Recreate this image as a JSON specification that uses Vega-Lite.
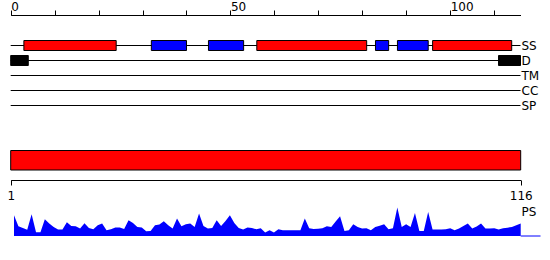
{
  "$schema": "https://vega.github.io/schema/vega-lite/v6.json",
  "width": 550,
  "height": 245,
  "autosize": "none",
  "padding": {"left": 0, "top": 15, "right": 0, "bottom": 0},
  "background": "white",
  "config": {
    "view": {"stroke": null},
    "axis": {"labelFont": "DejaVu Sans", "labelFontSize": 12, "labelColor": "black", "domainColor": "black", "tickColor": "black", "grid": false, "titleFont": "DejaVu Sans"}
  },
  "datasets": {
    "tracks": [
      {"track": "SS", "start": 0, "end": 116},
      {"track": "D", "start": 0, "end": 116},
      {"track": "TM", "start": 0, "end": 116},
      {"track": "CC", "start": 0, "end": 116},
      {"track": "SP", "start": 0, "end": 116}
    ],
    "features": [
      {"track": "SS", "type": "helix", "start": 3, "end": 24},
      {"track": "SS", "type": "strand", "start": 32, "end": 40},
      {"track": "SS", "type": "strand", "start": 45, "end": 53},
      {"track": "SS", "type": "helix", "start": 56, "end": 81},
      {"track": "SS", "type": "strand", "start": 83, "end": 86},
      {"track": "SS", "type": "strand", "start": 88, "end": 95},
      {"track": "SS", "type": "helix", "start": 96, "end": 114},
      {"track": "D", "type": "disorder", "start": 0, "end": 4},
      {"track": "D", "type": "disorder", "start": 111, "end": 116}
    ],
    "sequence": [{"name": "sequence", "start": 1, "end": 116}],
    "ps": [
      {"pos": 1, "score": 20.7}, {"pos": 2, "score": 9.7}, {"pos": 3, "score": 8.0}, {"pos": 4, "score": 6.3},
      {"pos": 5, "score": 21.7}, {"pos": 6, "score": 3.7}, {"pos": 7, "score": 3.7}, {"pos": 8, "score": 16.7},
      {"pos": 9, "score": 12.4}, {"pos": 10, "score": 9.0}, {"pos": 11, "score": 6.4}, {"pos": 12, "score": 6.4},
      {"pos": 13, "score": 13.7}, {"pos": 14, "score": 10.0}, {"pos": 15, "score": 9.7}, {"pos": 16, "score": 7.4},
      {"pos": 17, "score": 12.7}, {"pos": 18, "score": 8.0}, {"pos": 19, "score": 6.7}, {"pos": 20, "score": 10.7},
      {"pos": 21, "score": 12.4}, {"pos": 22, "score": 5.7}, {"pos": 23, "score": 6.7}, {"pos": 24, "score": 8.4},
      {"pos": 25, "score": 8.4}, {"pos": 26, "score": 7.0}, {"pos": 27, "score": 15.7}, {"pos": 28, "score": 13.0},
      {"pos": 29, "score": 9.0}, {"pos": 30, "score": 8.4}, {"pos": 31, "score": 4.7}, {"pos": 32, "score": 5.0},
      {"pos": 33, "score": 10.7}, {"pos": 34, "score": 11.4}, {"pos": 35, "score": 14.7}, {"pos": 36, "score": 10.7},
      {"pos": 37, "score": 7.4}, {"pos": 38, "score": 17.4}, {"pos": 39, "score": 9.7}, {"pos": 40, "score": 11.7},
      {"pos": 41, "score": 12.4}, {"pos": 42, "score": 9.0}, {"pos": 43, "score": 22.4}, {"pos": 44, "score": 10.0},
      {"pos": 45, "score": 7.4}, {"pos": 46, "score": 8.0}, {"pos": 47, "score": 15.7}, {"pos": 48, "score": 10.0},
      {"pos": 49, "score": 15.0}, {"pos": 50, "score": 20.7}, {"pos": 51, "score": 13.0}, {"pos": 52, "score": 8.0},
      {"pos": 53, "score": 6.4}, {"pos": 54, "score": 8.4}, {"pos": 55, "score": 8.0}, {"pos": 56, "score": 6.7},
      {"pos": 57, "score": 7.7}, {"pos": 58, "score": 3.4}, {"pos": 59, "score": 5.7}, {"pos": 60, "score": 3.4},
      {"pos": 61, "score": 6.7}, {"pos": 62, "score": 5.7}, {"pos": 63, "score": 5.7}, {"pos": 64, "score": 5.7},
      {"pos": 65, "score": 5.7}, {"pos": 66, "score": 5.7}, {"pos": 67, "score": 17.4}, {"pos": 68, "score": 7.7},
      {"pos": 69, "score": 7.0}, {"pos": 70, "score": 7.3}, {"pos": 71, "score": 7.7}, {"pos": 72, "score": 9.7},
      {"pos": 73, "score": 9.0}, {"pos": 74, "score": 14.5}, {"pos": 75, "score": 19.7}, {"pos": 76, "score": 5.0},
      {"pos": 77, "score": 5.7}, {"pos": 78, "score": 11.7}, {"pos": 79, "score": 9.0}, {"pos": 80, "score": 7.5},
      {"pos": 81, "score": 7.7}, {"pos": 82, "score": 5.7}, {"pos": 83, "score": 9.0}, {"pos": 84, "score": 10.3},
      {"pos": 85, "score": 11.7}, {"pos": 86, "score": 6.7}, {"pos": 87, "score": 7.7}, {"pos": 88, "score": 28.4},
      {"pos": 89, "score": 9.0}, {"pos": 90, "score": 11.7}, {"pos": 91, "score": 9.0}, {"pos": 92, "score": 23.0},
      {"pos": 93, "score": 5.0}, {"pos": 94, "score": 5.0}, {"pos": 95, "score": 24.0}, {"pos": 96, "score": 6.4},
      {"pos": 97, "score": 6.5}, {"pos": 98, "score": 6.6}, {"pos": 99, "score": 6.7}, {"pos": 100, "score": 7.7},
      {"pos": 101, "score": 5.7}, {"pos": 102, "score": 7.4}, {"pos": 103, "score": 10.0}, {"pos": 104, "score": 12.4},
      {"pos": 105, "score": 7.4}, {"pos": 106, "score": 9.5}, {"pos": 107, "score": 12.4}, {"pos": 108, "score": 7.4},
      {"pos": 109, "score": 7.5}, {"pos": 110, "score": 7.7}, {"pos": 111, "score": 6.4}, {"pos": 112, "score": 7.7},
      {"pos": 113, "score": 8.3}, {"pos": 114, "score": 9.0}, {"pos": 115, "score": 10.7}, {"pos": 116, "score": 12.4}
    ]
  },
  "layer": [
    {
      "layer": [
        {
          "data": {"name": "tracks"},
          "mark": {"type": "rule", "color": "black", "strokeWidth": 1},
          "encoding": {
            "x": {
              "field": "start", "type": "quantitative",
              "scale": {"domain": [0, 116], "range": [10.7, 520.5], "nice": false, "zero": false},
              "axis": {
                "orient": "top", "values": [0, 10, 20, 30, 40, 50, 60, 70, 80, 90, 100, 110],
                "tickSize": 5, "labelAlign": "left", "labelBaseline": "alphabetic", "labelPadding": -0.5,
                "labelExpr": "datum.value % 50 === 0 ? datum.label : ''",
                "labelFlush": false, "labelOverlap": false, "title": null
              }
            },
            "x2": {"field": "end"},
            "y": {
              "field": "track", "type": "nominal",
              "scale": {"type": "point", "domain": ["SS", "D", "TM", "CC", "SP"], "range": [30.5, 90.5], "padding": 0},
              "axis": {"orient": "right", "offset": -29, "domain": false, "ticks": false, "tickSize": 0, "labelPadding": 0, "labelAlign": "left", "labelBaseline": "middle", "title": null}
            }
          }
        },
        {
          "data": {"name": "features"},
          "mark": {"type": "bar", "size": 10, "stroke": "black", "strokeWidth": 1},
          "encoding": {
            "x": {"field": "start", "type": "quantitative", "scale": {"domain": [0, 116], "range": [10.7, 520.5], "nice": false, "zero": false}},
            "x2": {"field": "end"},
            "y": {"field": "track", "type": "nominal", "scale": {"type": "point", "domain": ["SS", "D", "TM", "CC", "SP"], "range": [30.5, 90.5], "padding": 0}},
            "color": {"field": "type", "type": "nominal", "scale": {"domain": ["helix", "strand", "disorder"], "range": ["#ff0000", "#0000ff", "#000000"]}, "legend": null}
          }
        }
      ]
    },
    {
      "data": {"name": "sequence"},
      "mark": {"type": "bar", "color": "#ff0000", "stroke": "black", "strokeWidth": 1},
      "encoding": {
        "x": {
          "field": "start", "type": "quantitative",
          "scale": {"domain": [1, 116], "range": [10.7, 520.7], "nice": false, "zero": false},
          "axis": {"orient": "bottom", "offset": -80, "values": [1, 116], "tickSize": 5, "labelPadding": 5, "labelFlush": false, "labelOverlap": false, "title": null}
        },
        "x2": {"field": "end"},
        "y": {"field": "name", "type": "nominal", "scale": {"type": "band", "range": [135.5, 155], "paddingInner": 0, "paddingOuter": 0}, "axis": null}
      }
    },
    {
      "layer": [
        {
          "data": {"name": "ps"},
          "mark": {"type": "area", "color": "#0000ff", "interpolate": "linear"},
          "encoding": {
            "x": {"field": "pos", "type": "quantitative", "scale": {"domain": [1, 116], "range": [14, 520.7], "nice": false, "zero": false}, "axis": null},
            "y": {
              "field": "score", "type": "quantitative",
              "scale": {"domain": [0, 30], "range": [221, 191], "nice": false, "zero": true},
              "axis": {"orient": "right", "offset": -29, "domain": false, "ticks": false, "labels": false, "title": "PS", "titleAngle": 0, "titleAlign": "left", "titleBaseline": "alphabetic", "titleX": 0, "titleY": 200, "titleFontSize": 12, "titleFontWeight": "normal", "titleColor": "black"}
            }
          }
        },
        {
          "data": {"values": [{}]},
          "mark": {"type": "rule", "color": "#0000ff", "strokeWidth": 1},
          "encoding": {
            "x": {"datum": 116, "type": "quantitative"},
            "x2": {"datum": 120.5},
            "y": {"datum": 0, "type": "quantitative"}
          }
        }
      ]
    }
  ],
  "resolve": {"scale": {"x": "independent", "y": "independent"}}
}
